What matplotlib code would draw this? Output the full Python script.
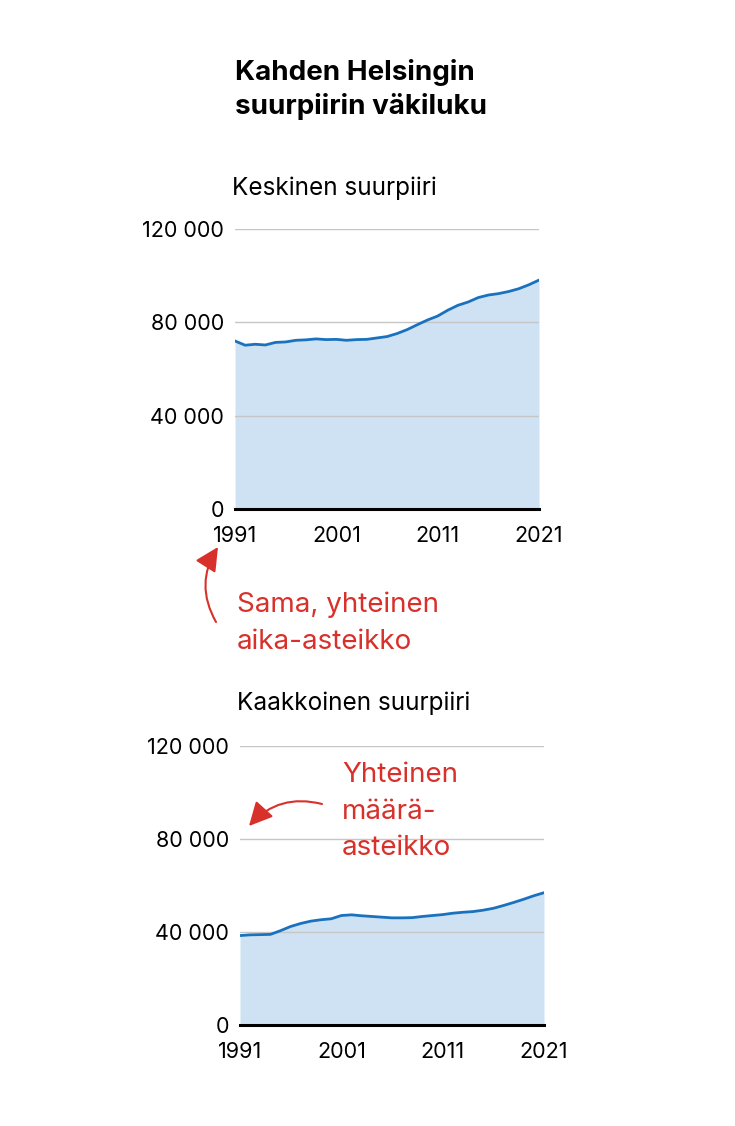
import numpy as np
import matplotlib
matplotlib.use('Agg')
import matplotlib.pyplot as plt

plt.rcParams['font.family'] = ['Inter', 'DejaVu Sans']

# vuodet ja väkiluku (luettu kuvasta)
vuodet = np.arange(1991, 2022)
keskinen = [72000, 70200, 70600, 70300, 71400, 71600, 72300, 72500, 72900, 72600,
            72700, 72300, 72600, 72700, 73300, 73900, 75200, 76900, 79000, 81000,
            82700, 85200, 87300, 88700, 90600, 91700, 92300, 93200, 94400, 96100,
            98100]
kaakkoinen = [38400, 38700, 38800, 38900, 40500, 42300, 43600, 44600, 45200, 45600,
              47000, 47300, 46900, 46600, 46300, 46000, 46000, 46100, 46600, 47000,
              47400, 48000, 48400, 48700, 49300, 50100, 51300, 52600, 54000, 55500,
              56800]
y_ticks = [0, 40000, 80000, 120000]
x_ticks = [1991, 2001, 2011, 2021]

W, H = 735, 1126
LINE = '#1a72bf'
FILL = '#cfe2f4'
RED = '#d8302a'

fig = plt.figure(figsize=(W / 100, H / 100), dpi=100)


def px(x, y):
    return x / W, 1 - y / H


def piirra(rect, arvot):
    ax = fig.add_axes(rect)
    ax.fill_between(vuodet, arvot, 0, color=FILL, lw=0, zorder=1)
    for t in y_ticks[1:]:
        ax.axhline(t, color='#c6c6c6', lw=1, zorder=2)
    ax.plot(vuodet, arvot, color=LINE, lw=2, zorder=3)
    ax.axhline(0, color='black', lw=2.2, zorder=4, clip_on=False)
    ax.set_xlim(1991, 2021)
    ax.set_ylim(0, 120000)
    ax.set_xticks(x_ticks)
    ax.set_xticklabels([str(v) for v in x_ticks])
    ax.set_yticks(y_ticks)
    ax.set_yticklabels([f'{v:,}'.replace(',', ' ') for v in y_ticks])
    ax.tick_params(length=0, labelsize=15.5, colors='black')
    ax.tick_params(axis='y', pad=8)
    ax.tick_params(axis='x', pad=12)
    for s in ax.spines.values():
        s.set_visible(False)
    ax.set_facecolor('none')
    return ax


piirra([235 / W, 1 - 509 / H, 304 / W, 280 / H], keskinen)
piirra([240 / W, 1 - 1025 / H, 304 / W, 279.5 / H], kaakkoinen)

fig.text(*px(235, 72), 'Kahden Helsingin', fontsize=20, fontweight='bold', va='center')
fig.text(*px(235, 107), 'suurpiirin väkiluku', fontsize=20, fontweight='bold', va='center')
fig.text(*px(232, 188), 'Keskinen suurpiiri', fontsize=17.5, va='center')
fig.text(*px(237, 703), 'Kaakkoinen suurpiiri', fontsize=17.5, va='center')

fig.text(*px(237, 605), 'Sama, yhteinen', fontsize=20, color=RED, va='center')
fig.text(*px(237, 642), 'aika-asteikko', fontsize=20, color=RED, va='center')
fig.text(*px(342, 775), 'Yhteinen', fontsize=20, color=RED, va='center')
fig.text(*px(342, 812), 'määrä-', fontsize=20, color=RED, va='center')
fig.text(*px(342, 848), 'asteikko', fontsize=20, color=RED, va='center')

nuoli = dict(arrowstyle='-|>,head_length=0.8,head_width=0.4', color=RED, lw=1.5,
             shrinkA=0, shrinkB=0, mutation_scale=18)
fig.add_artist(matplotlib.patches.FancyArrowPatch(
    px(216, 622), px(218, 547), transform=fig.transFigure,
    connectionstyle='arc3,rad=-0.3', **nuoli))
fig.add_artist(matplotlib.patches.FancyArrowPatch(
    px(322, 804), px(249, 826), transform=fig.transFigure,
    connectionstyle='arc3,rad=0.3', **nuoli))

fig.savefig('out.png', dpi=100)
